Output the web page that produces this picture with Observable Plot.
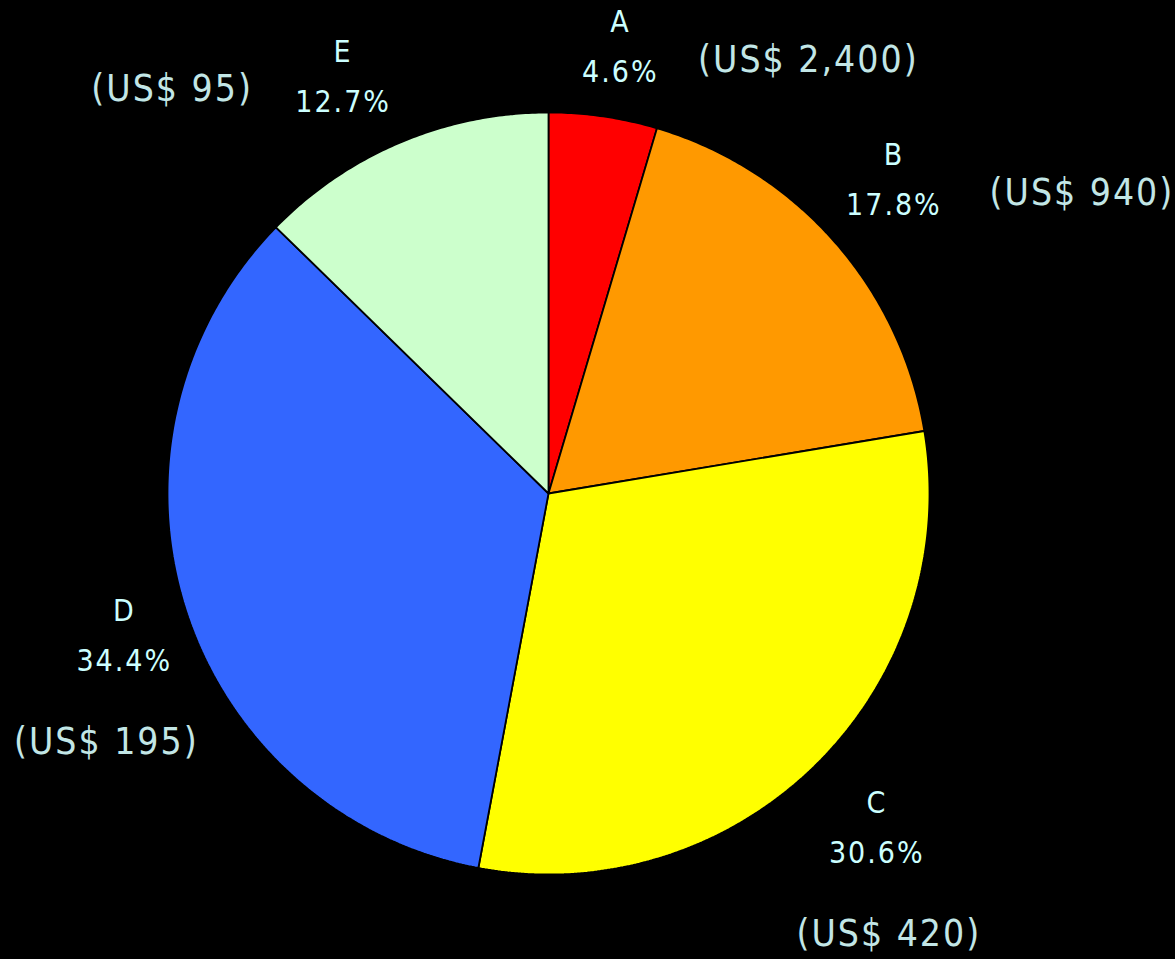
<!DOCTYPE html>
<html>
<head>
<meta charset="utf-8">
<script src="https://cdn.jsdelivr.net/npm/d3@7"></script>
<script src="https://cdn.jsdelivr.net/npm/@observablehq/plot@0.6"></script>
<style>
  html, body { margin: 0; padding: 0; background: #000; }
  #chart svg { display: block; }
  #chart text { font-stretch: condensed; letter-spacing: 2px; }
</style>
</head>
<body>
<div id="chart"></div>
<script>
// ---- data ----
const categories = ["A", "B", "C", "D", "E"];
const shares = [4.6, 17.8, 30.6, 34.4, 12.7];          // percent
const prices = ["US$ 2,400", "US$ 940", "US$ 420", "US$ 195", "US$ 95"];
const colors = ["#FF0000", "#FF9900", "#FFFF00", "#3366FF", "#CCFFCC"];

// ---- layout ----
const W = 1175, H = 959;
const cx = 548, cy = 493, R = 381;
const labelR = 1.22 * R;
const labelNudge = [[5, 14], [-3, -5], [3, 3], [19, 3], [-25, 12]];
const priceSide = ["right", "right", "below", "below", "left"];

const total = d3.sum(shares);
let acc = 0;
const slices = categories.map((name, i) => {
  const a0 = acc / total * 2 * Math.PI;
  acc += shares[i];
  const a1 = acc / total * 2 * Math.PI;
  return {name, share: shares[i], price: prices[i], a0, a1, mid: (a0 + a1) / 2, side: priceSide[i], nudge: labelNudge[i]};
});

// polygon vertices for each wedge (angle clockwise from 12 o'clock)
const pts = [];
for (const s of slices) {
  pts.push({name: s.name, x: 0, y: 0});
  const n = Math.max(2, Math.ceil((s.a1 - s.a0) / (Math.PI / 360)));
  for (let k = 0; k <= n; k++) {
    const a = s.a0 + (s.a1 - s.a0) * k / n;
    pts.push({name: s.name, x: R * Math.sin(a), y: -R * Math.cos(a)});
  }
}

const lx = s => labelR * Math.sin(s.mid) + s.nudge[0];
const ly = s => -labelR * Math.cos(s.mid) + s.nudge[1];
const px = s => lx(s) + (s.side === "right" ? 188 : s.side === "left" ? -171 : (s.name === "C" ? 12 : -18));
const py = s => ly(s) + (s.side === "below" ? 106 : 12.5);

const font = "'DejaVu Sans Condensed', 'DejaVu Sans', sans-serif";

const chart = Plot.plot({
  width: W,
  height: H,
  margin: 0,
  style: {background: "#000", fontFamily: font},
  x: {domain: [-cx, W - cx], range: [0, W], axis: null},
  y: {domain: [-cy, H - cy], range: [0, H], axis: null},
  color: {domain: categories, range: colors},
  marks: [
    Plot.line(pts, {x: "x", y: "y", z: "name", fill: "name", stroke: "black", strokeWidth: 1.8, curve: "linear-closed", strokeLinejoin: "miter"}),
    Plot.text(slices, {x: lx, y: ly, text: s => s.name, dy: -25, fill: "#CCFFFF", fontSize: 30}),
    Plot.text(slices, {x: lx, y: ly, text: s => s.share.toFixed(1) + "%", dy: 25, fill: "#CCFFFF", fontSize: 30}),
    Plot.text(slices, {x: px, y: py, text: s => "(" + s.price + ")", fill: "#C2E6E6", fontSize: 37})
  ]
});
document.getElementById("chart").appendChild(chart);
</script>
</body>
</html>
